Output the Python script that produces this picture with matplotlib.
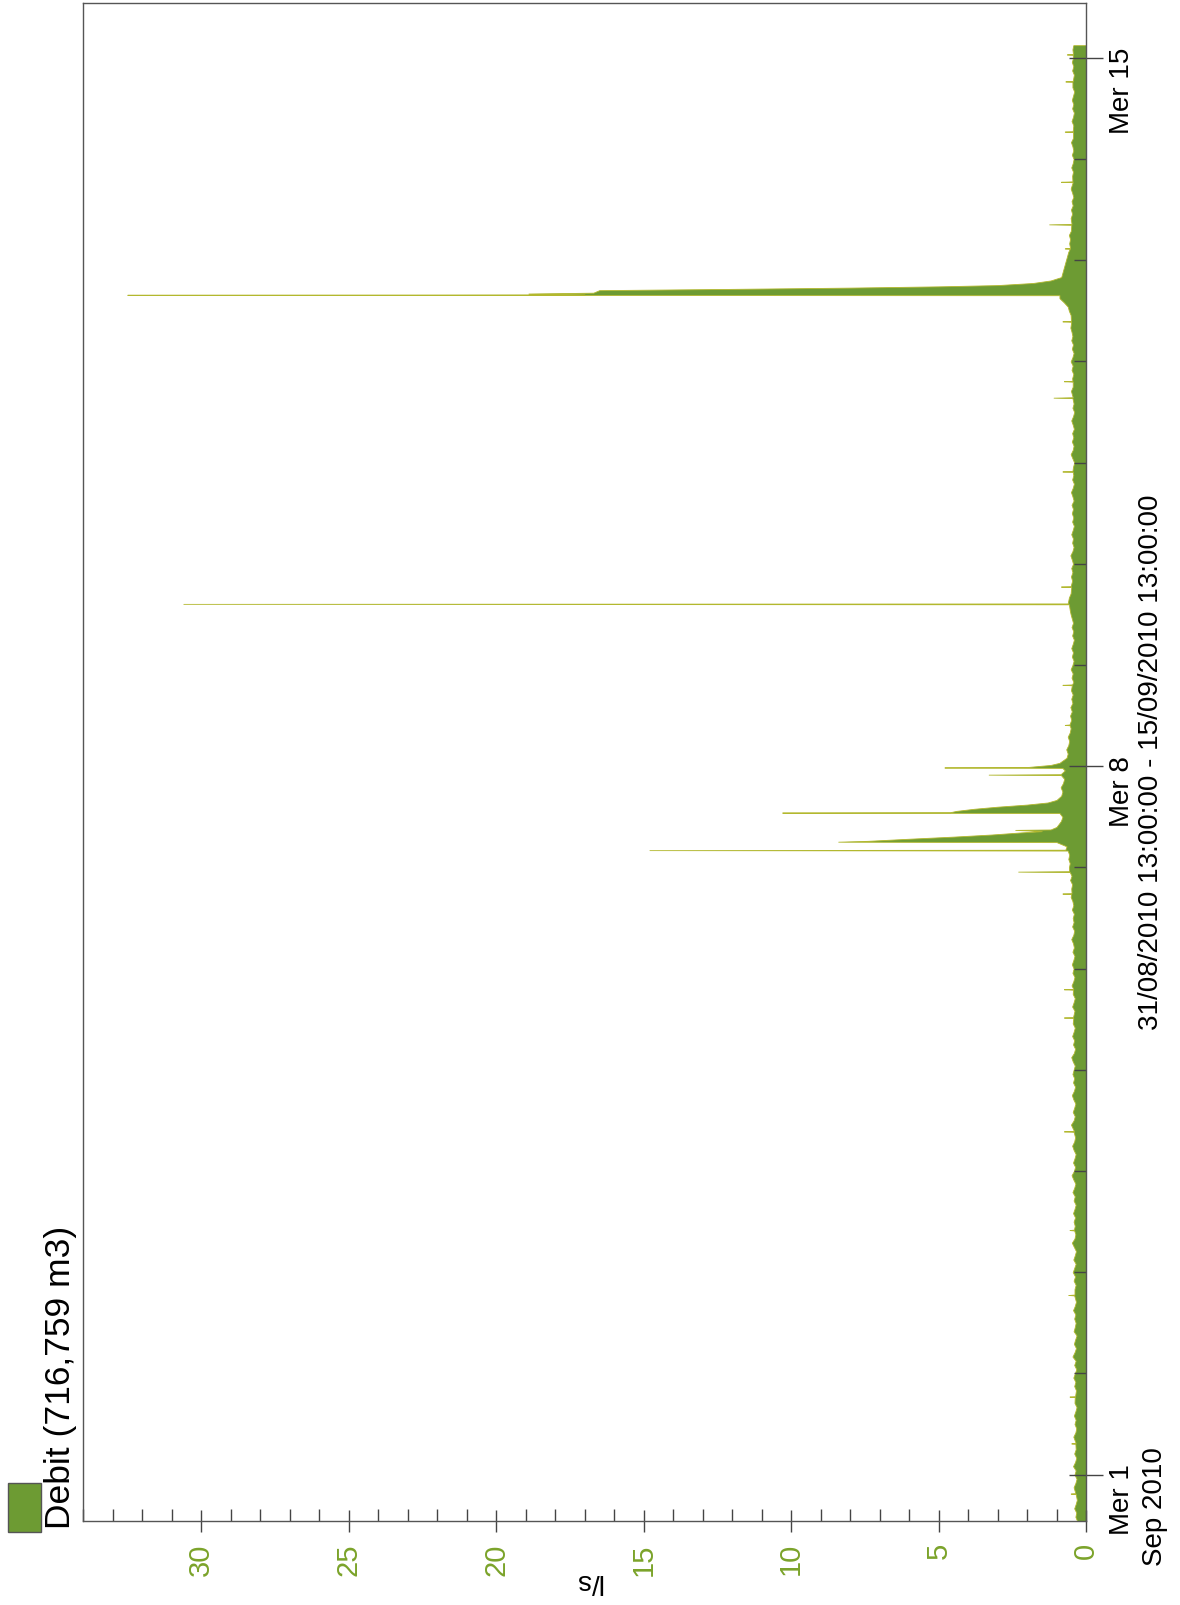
import numpy as np
import pandas as pd
import matplotlib
matplotlib.use('Agg')
import matplotlib.pyplot as plt
import matplotlib.dates as mdates
from matplotlib.ticker import MultipleLocator
from matplotlib.patches import Rectangle

plt.rcParams['font.family'] = ['Liberation Sans', 'DejaVu Sans']

# time range of the record
start = pd.Timestamp('2010-08-31 13:00')
end = pd.Timestamp('2010-09-15 13:00')

# base flow (l/s), one reading per hour from the start (one row ~ one day)
base_step_h = 1
base_values = [
    0.30, 0.36, 0.33, 0.40, 0.35, 0.31, 0.38, 0.34, 0.42, 0.36, 0.32, 0.39,
    0.35, 0.44, 0.37, 0.33, 0.40, 0.35, 0.31, 0.38, 0.43, 0.36, 0.33, 0.39,
    0.35, 0.41, 0.36, 0.32, 0.39, 0.45, 0.37, 0.34, 0.40, 0.36, 0.43, 0.38,
    0.33, 0.40, 0.35, 0.46, 0.39, 0.34, 0.41, 0.37, 0.32, 0.42, 0.38, 0.35,
    0.40, 0.36, 0.44, 0.38, 0.34, 0.41, 0.47, 0.39, 0.35, 0.42, 0.37, 0.45,
    0.40, 0.35, 0.43, 0.38, 0.34, 0.41, 0.48, 0.39, 0.36, 0.43, 0.38, 0.42,
    0.37, 0.44, 0.39, 0.35, 0.42, 0.38, 0.46, 0.40, 0.36, 0.43, 0.49, 0.41,
    0.37, 0.44, 0.39, 0.35, 0.42, 0.47, 0.40, 0.37, 0.44, 0.39, 0.51, 0.42,
    0.38, 0.45, 0.40, 0.36, 0.43, 0.48, 0.41, 0.37, 0.44, 0.40, 0.46, 0.42,
    0.38, 0.45, 0.50, 0.41, 0.37, 0.44, 0.40, 0.47, 0.42, 0.38, 0.45, 0.41,
    0.44, 0.39, 0.47, 0.42, 0.38, 0.45, 0.41, 0.49, 0.43, 0.39, 0.46, 0.42,
    0.48, 0.43, 0.39, 0.46, 0.41, 0.44, 0.50, 0.43, 0.40, 0.47, 0.42, 0.45,
    0.41, 0.48, 0.43, 0.46, 0.52, 0.45, 0.50, 0.47, 0.54, 0.49, 0.52, 0.58,
    0.55, 0.60, 0.57, 0.63, 0.66, 0.70, 0.68, 0.74, 0.78, 0.82, 0.85, 0.80,
    0.88, 0.92, 0.86, 0.90, 0.84, 0.80, 0.86, 0.78, 0.74, 0.79, 0.72, 0.68,
    0.73, 0.66, 0.62, 0.67, 0.60, 0.57, 0.62, 0.55, 0.52, 0.57, 0.50, 0.54,
    0.48, 0.53, 0.46, 0.50, 0.45, 0.51, 0.47, 0.43, 0.49, 0.45, 0.52, 0.46,
    0.42, 0.48, 0.44, 0.50, 0.45, 0.41, 0.47, 0.43, 0.49, 0.44, 0.48, 0.52,
    0.55, 0.60, 0.54, 0.58, 0.52, 0.49, 0.54, 0.47, 0.51, 0.46, 0.50, 0.44,
    0.48, 0.53, 0.46, 0.42, 0.47, 0.44, 0.50, 0.45, 0.41, 0.47, 0.43, 0.48,
    0.44, 0.49, 0.42, 0.46, 0.51, 0.45, 0.41, 0.47, 0.43, 0.49, 0.44, 0.40,
    0.46, 0.52, 0.45, 0.42, 0.48, 0.43, 0.47, 0.41, 0.45, 0.50, 0.44, 0.40,
    0.46, 0.42, 0.48, 0.44, 0.51, 0.45, 0.41, 0.47, 0.43, 0.49, 0.45, 0.52,
    0.46, 0.42, 0.48, 0.44, 0.50, 0.46, 0.49, 0.53, 0.50, 0.56, 0.52, 0.58,
    0.62, 0.75, 0.90, 0.98, 0.95, 0.88, 0.92, 0.84, 0.80, 0.76, 0.72, 0.68,
    0.64, 0.60, 0.63, 0.57, 0.54, 0.58, 0.51, 0.55, 0.49, 0.52, 0.47, 0.51,
    0.45, 0.49, 0.43, 0.47, 0.52, 0.45, 0.41, 0.47, 0.44, 0.50, 0.45, 0.42,
    0.48, 0.43, 0.46, 0.51, 0.44, 0.40, 0.46, 0.43, 0.49, 0.44, 0.41, 0.47,
    0.43, 0.48, 0.44, 0.40, 0.46, 0.50, 0.44, 0.41, 0.47, 0.43, 0.48, 0.44,
    0.42, 0.46, 0.43,
]

# storm peaks and small spikes: hours after start, flow (l/s)
event_hours = [
    6.4, 6.5, 6.6, 18.3, 18.4, 18.5, 29.4, 29.5, 29.6, 53.5, 53.6, 53.7,
    68.9, 69.0, 69.1, 92.3, 92.4, 92.5, 119.3, 119.4, 119.5,
    126.0, 126.1, 126.2, 148.7, 148.8, 148.9,
    153.9, 154.0, 154.1,
    159.0, 159.1, 159.2,
    161.0, 161.1, 161.3, 161.8, 162.3, 162.8, 163.3, 163.6, 163.9, 164.0, 164.6,
    167.9, 168.0, 168.1, 168.4, 168.9, 169.4, 169.9, 170.4, 171.0,
    176.9, 177.0, 177.1,
    178.6, 178.7, 178.8, 179.3, 179.8,
    188.7, 188.8, 188.9, 198.2, 198.3, 198.4,
    217.4, 217.5, 217.6,
    221.5, 221.6, 221.7, 248.8, 248.9, 249.0, 266.3, 266.4, 266.5,
    270.2, 270.3, 270.4, 284.4, 284.5, 284.6,
    290.7, 290.8, 290.9, 291.1, 291.3, 291.9, 292.2, 292.5, 292.8, 293.1, 293.6, 294.2,
    301.7, 301.8, 301.9, 307.4, 307.5, 307.6, 317.5, 317.6, 317.7,
    329.4, 329.5, 329.6, 341.3, 341.4, 341.5, 347.7, 347.8, 347.9,
]
event_values = [
    0.35, 0.52, 0.36, 0.36, 0.50, 0.35, 0.38, 0.56, 0.37, 0.40, 0.60, 0.39,
    0.40, 0.56, 0.41, 0.42, 0.75, 0.41, 0.43, 0.75, 0.44,
    0.44, 0.75, 0.43, 0.50, 0.80, 0.49,
    0.55, 2.3, 0.57,
    0.62, 14.8, 0.70,
    1.0, 8.4, 7.4, 6.0, 4.5, 3.2, 2.2, 1.5, 2.4, 1.2, 1.0,
    0.90, 10.3, 4.6, 4.4, 3.8, 3.0, 2.0, 1.3, 1.0,
    0.85, 3.3, 0.86,
    0.80, 4.8, 2.0, 1.2, 0.90,
    0.55, 0.72, 0.56, 0.48, 0.80, 0.47,
    0.58, 30.6, 0.62,
    0.50, 0.85, 0.52, 0.45, 0.80, 0.46, 0.46, 1.1, 0.45,
    0.45, 0.75, 0.46, 0.50, 0.80, 0.51,
    0.90, 32.5, 17.0, 18.9, 16.7, 16.5, 12.0, 8.0, 5.0, 3.0, 1.8, 1.2,
    0.55, 0.72, 0.54, 0.50, 1.25, 0.49, 0.45, 0.85, 0.46,
    0.44, 0.72, 0.45, 0.46, 0.70, 0.45, 0.45, 0.65, 0.44,
]

value_ticks = [0, 5, 10, 15, 20, 25, 30]
date_ticks = ['2010-09-01', '2010-09-08', '2010-09-15']
date_labels = ['Mer 1', 'Mer 8', 'Mer 15']
month_label = 'Sep 2010'
range_label = '31/08/2010 13:00:00 - 15/09/2010 13:00:00'
unit_label = 'l/s'
legend_label = 'Debit (716,759 m3)'

fill_color = '#6d9b33'
edge_color = '#b3b82e'
tick_green = '#7ba32a'
W, H = 1180, 1605

# merge base flow and events, dropping base readings that fall inside an event
base_hours = np.arange(len(base_values)) * base_step_h
ev_h = np.array(event_hours)
keep = np.array([np.min(np.abs(ev_h - h)) > 0.5 for h in base_hours])
hours = np.concatenate([base_hours[keep], ev_h])
vals = np.concatenate([np.array(base_values)[keep], np.array(event_values)])
order = np.argsort(hours)
times = (start + pd.to_timedelta(hours[order], unit='h')).to_pydatetime()
vals = vals[order]

fig = plt.figure(figsize=(W / 100, H / 100), dpi=100)
ax = fig.add_axes([83 / W, 1 - 1521 / H, (1086 - 83) / W, 1518 / H])

ax.fill_betweenx(times, 0, vals, facecolor=fill_color, edgecolor=edge_color,
                 linewidth=0.6)

ax.set_xlim(34, 0)
ax.set_ylim(start.to_pydatetime(), end.to_pydatetime())

for s in ax.spines.values():
    s.set_color('#555555')
    s.set_linewidth(1.0)

# value axis (bottom)
ax.set_xticks(value_ticks)
ax.xaxis.set_minor_locator(MultipleLocator(1))
ax.tick_params(axis='x', which='major', direction='inout', length=16, width=1,
               color='#444444', labelrotation=90, labelsize=21,
               labelcolor=tick_green, pad=8)
ax.tick_params(axis='x', which='minor', direction='in', length=9, width=1,
               color='#444444')

# time axis (right)
ax.yaxis.tick_right()
ax.set_yticks(pd.to_datetime(date_ticks).to_pydatetime())
ax.set_yticklabels(date_labels)
ax.yaxis.set_minor_locator(mdates.DayLocator())
ax.tick_params(axis='y', which='major', direction='inout', length=25, width=1,
               color='#444444', labelrotation=90, labelsize=20, pad=4)
ax.tick_params(axis='y', which='minor', direction='in', length=9, width=1,
               color='#444444')
ax.tick_params(axis='y', which='both', left=False, labelleft=False)

fig.text(1155 / W, 1 - 1507 / H, month_label, rotation=90, ha='center',
         va='center', fontsize=20)
fig.text(1151 / W, 1 - 762 / H, range_label, rotation=90, ha='center',
         va='center', fontsize=20)
fig.text(588 / W, 1 - 1581 / H, unit_label, rotation=180, ha='center',
         va='center', fontsize=20)

# legend swatch and label
fig.add_artist(Rectangle((8 / W, 1 - 1532 / H), 33 / W, 49 / H,
                         transform=fig.transFigure, facecolor=fill_color,
                         edgecolor='#555555', linewidth=1))
fig.text(61 / W, 1 - 1529 / H, legend_label, rotation=90, ha='center',
         va='bottom', fontsize=25.5)

fig.savefig('out.png', dpi=100)
